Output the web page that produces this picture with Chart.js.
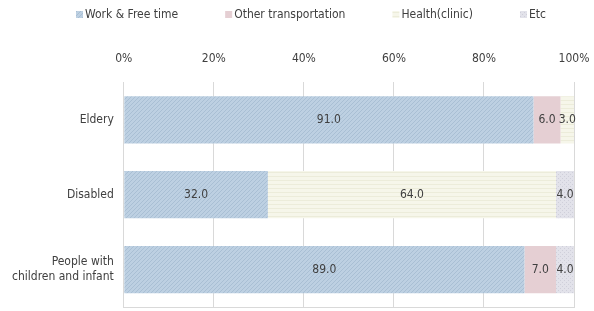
<!DOCTYPE html>
<html>
<head>
<meta charset="utf-8">
<script src="https://cdn.jsdelivr.net/npm/chart.js@4"></script>
<style>
  html, body { margin: 0; padding: 0; background: #fff; }
  #wrap { width: 594px; height: 311px; position: relative; }
</style>
</head>
<body>
<div id="wrap"><canvas id="chart"></canvas></div>
<script>
// data
const groups = ['Eldery', 'Disabled', ['People with', 'children and infant']];
const seriesNames = ['Work & Free time', 'Other transportation', 'Health(clinic)', 'Etc'];
const workFree = [91, 32, 89];
const otherTransport = [6, 0, 7];
const health = [3, 64, 0];
const etc = [0, 4, 4];
const tickLabels = ['0%', '20%', '40%', '60%', '80%', '100%'];

const FONT = '"Liberation Sans Narrow", "DejaVu Sans Condensed", sans-serif';

// small fill patterns, like the hatched office style fills
function makePattern(base, ink, kind) {
  const c = document.createElement('canvas');
  c.width = 4; c.height = 4;
  const g = c.getContext('2d');
  g.fillStyle = base;
  g.fillRect(0, 0, 4, 4);
  g.fillStyle = ink;
  if (kind === 'diag') {
    g.fillRect(0, 3, 1, 1); g.fillRect(1, 2, 1, 1);
    g.fillRect(2, 1, 1, 1); g.fillRect(3, 0, 1, 1);
  } else if (kind === 'horiz') {
    g.fillRect(0, 0, 4, 1);
  } else if (kind === 'dots') {
    g.fillRect(0, 0, 1, 1); g.fillRect(2, 2, 1, 1);
  }
  return g.createPattern(c, 'repeat');
}

const fills = [
  makePattern('#bdd0e2', '#a9bfd4', 'diag'),
  makePattern('#e5cfd3', '#e5cfd3', 'none'),
  makePattern('#f6f6ea', '#ececda', 'horiz'),
  makePattern('#e2e2ea', '#cfcfda', 'dots')
];
const allValues = [workFree, otherTransport, health, etc];

const datasets = seriesNames.map((name, i) => ({
  label: name,
  data: allValues[i],
  backgroundColor: fills[i],
  borderWidth: 0,
  barPercentage: 0.63,
  categoryPercentage: 1
}));

// value labels in the middle of each segment
const valueLabels = {
  id: 'valueLabels',
  afterDatasetsDraw(chart) {
    const ctx = chart.ctx;
    ctx.save();
    ctx.font = '12px ' + FONT;
    ctx.fillStyle = '#404040';
    ctx.textAlign = 'center';
    ctx.textBaseline = 'middle';
    chart.data.datasets.forEach((ds, di) => {
      const meta = chart.getDatasetMeta(di);
      meta.data.forEach((bar, j) => {
        const v = ds.data[j];
        if (!v) return;
        const x = (bar.x + bar.base) / 2;
        ctx.fillText(v.toFixed(1), x, bar.y);
      });
    });
    ctx.restore();
  }
};

// one-row legend across the top, wide gaps like the original
const topLegend = {
  id: 'topLegend',
  afterDraw(chart) {
    const ctx = chart.ctx;
    ctx.save();
    ctx.font = '12px ' + FONT;
    ctx.textBaseline = 'middle';
    ctx.textAlign = 'left';
    let x = 76;
    const y = 15;
    chart.data.datasets.forEach((ds, i) => {
      ctx.fillStyle = ds.backgroundColor;
      ctx.fillRect(x, y - 4, 7, 7);
      ctx.fillStyle = '#404040';
      ctx.fillText(ds.label, x + 9, y);
      x += 9 + ctx.measureText(ds.label).width + 47;
    });
    ctx.restore();
  }
};

new Chart(document.getElementById('chart'), {
  type: 'bar',
  data: { labels: groups, datasets: datasets },
  plugins: [valueLabels, topLegend],
  options: {
    indexAxis: 'y',
    responsive: true,
    maintainAspectRatio: false,
    animation: false,
    layout: { padding: { left: 2, right: 20, top: 36, bottom: 4 } },
    plugins: {
      legend: { display: false },
      tooltip: { enabled: false }
    },
    scales: {
      x: {
        position: 'top',
        stacked: true,
        min: 0,
        max: 100,
        grid: { color: '#d9d9d9', drawTicks: false },
        border: { display: false },
        ticks: {
          stepSize: 20,
          padding: 16,
          color: '#404040',
          font: { family: FONT, size: 12 },
          callback: (v, i) => tickLabels[i]
        },
        afterFit(scale) {
          scale.paddingLeft = 0;
          scale.paddingRight = 0;
        }
      },
      // only there for the thin line along the bottom
      xBottom: {
        position: 'bottom',
        min: 0,
        max: 100,
        grid: { display: false, drawTicks: false },
        border: { color: '#d9d9d9' },
        ticks: { display: false },
        afterFit(scale) {
          scale.height = 0;
          scale.paddingLeft = 0;
          scale.paddingRight = 0;
        }
      },
      y: {
        stacked: true,
        grid: { display: false, drawTicks: false },
        border: { color: '#d9d9d9' },
        ticks: {
          padding: 10,
          color: '#404040',
          font: { family: FONT, size: 12 }
        },
        afterFit(scale) {
          scale.paddingTop = 0;
          scale.paddingBottom = 0;
        }
      }
    }
  }
});
</script>
</body>
</html>
